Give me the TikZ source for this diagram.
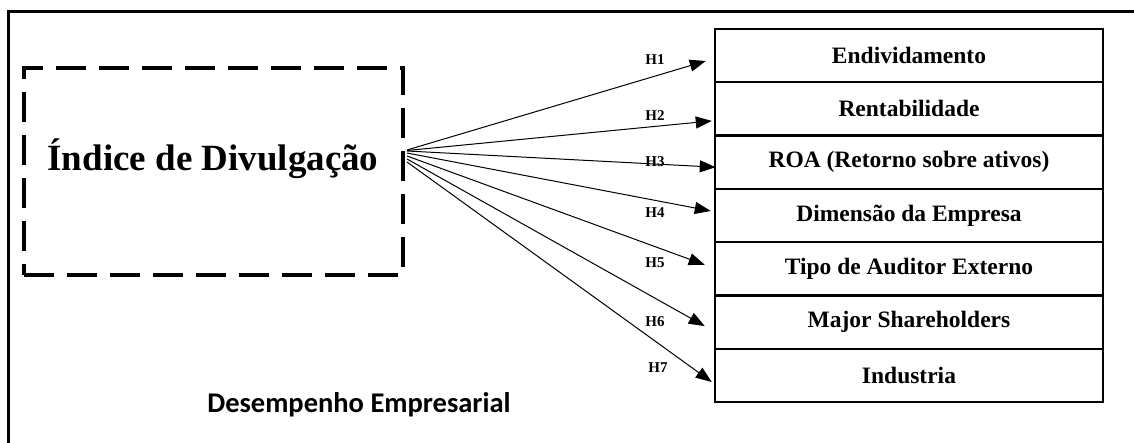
\documentclass[tikz,border=0pt]{standalone}
\usepackage{fontspec}
\setmainfont{Liberation Serif}
\newfontfamily\calibfont{Carlito}
\usetikzlibrary{arrows.meta}
\begin{document}
\begin{tikzpicture}[x=1pt,y=-1pt,
  varbox/.style={draw,line width=2.5pt,minimum width=388pt,minimum height=53.3pt,
    font=\fontsize{23.5}{26}\selectfont\bfseries,inner sep=0pt},
  hlab/.style={font=\fontsize{15}{17}\selectfont\bfseries,inner sep=0pt},
  arr/.style={-{Triangle[length=16pt,width=12pt]},line width=1pt}]
\useasboundingbox (0,0) rectangle (1134,443);
% outer frame (cropped)
\draw[line width=2.7pt] (8.5,443) -- (8.5,11.5) -- (1134,11.5);
% dashed box
\node[draw,dash pattern=on 30pt off 13pt,line width=4pt,minimum width=379pt,
  minimum height=207pt,inner sep=0pt] (idx) at (213.5,171.5) {};
\node[font=\fontsize{37}{40}\selectfont\bfseries,anchor=base,inner sep=0pt] (idxt)
  at (213,171) {Índice de Divulgação};
% variable boxes
\node[varbox] (b1) at (909,55.6) {Endividamento};
\node[varbox] (b2) at (909,108.9) {Rentabilidade};
\node[varbox] (b3) at (909,162.2) {ROA (Retorno sobre ativos)};
\node[varbox] (b4) at (909,215.5) {Dimensão da Empresa};
\node[varbox] (b5) at (909,268.8) {Tipo de Auditor Externo};
\node[varbox] (b6) at (909,322.1) {Major Shareholders};
\node[varbox] (b7) at (909,375.4) {Industria};
% source points
\coordinate (s1) at ([shift={(2,-21.5)}]idx.east);
\coordinate (s2) at ([shift={(2,-21)}]idx.east);
\coordinate (s3) at ([shift={(2,-20.5)}]idx.east);
\coordinate (s4) at ([shift={(2,-18.5)}]idx.east);
\coordinate (s5) at ([shift={(2,-15.5)}]idx.east);
\coordinate (s6) at ([shift={(2,-12.5)}]idx.east);
\coordinate (s7) at ([shift={(2,-9.5)}]idx.east);
% tips
\coordinate (t1) at ([shift={(-8,5.4)}]b1.west);
\coordinate (t2) at ([shift={(-2,12)}]b2.west);
\coordinate (t3) at ([shift={(2,5)}]b3.west);
\coordinate (t4) at ([shift={(-3,-4.5)}]b4.west);
\coordinate (t5) at ([shift={(-9,-4)}]b5.west);
\coordinate (t6) at ([shift={(-9,4)}]b6.west);
\coordinate (t7) at ([shift={(-2,6.6)}]b7.west);
\foreach \i in {1,...,7} {\draw[arr] (s\i) -- (t\i);}
% labels
\node[hlab] (h1) at (655,60) {H1};
\node[hlab] (h2) at (655,116) {H2};
\node[hlab] (h3) at (655,162) {H3};
\node[hlab] (h4) at (655,213) {H4};
\node[hlab] (h5) at (655,263) {H5};
\node[hlab] (h6) at (655,322) {H6};
\node[hlab] (h7) at (658,368) {H7};
% caption
\node[font=\calibfont\fontsize{28.5}{30}\selectfont\bfseries,anchor=base,inner sep=0pt] (cap)
  at (359,412) {Desempenho Empresarial};
\end{tikzpicture}
\end{document}
